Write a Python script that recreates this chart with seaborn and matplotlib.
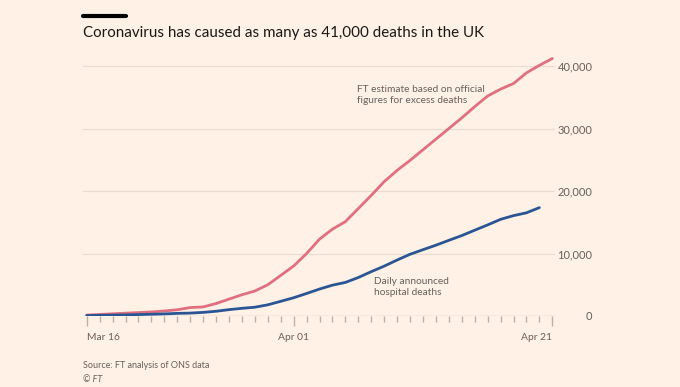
import matplotlib
matplotlib.use("Agg")
import matplotlib.pyplot as plt
import matplotlib.dates as mdates
from matplotlib.lines import Line2D
import pandas as pd
import seaborn as sns

# Cumulative deaths, daily from Mar 16
start_date = "2020-03-16"
excess_deaths = [150, 250, 350, 450, 550, 650, 800, 1000, 1350, 1450,
                 2000, 2700, 3400, 4000, 5000, 6500, 8000, 10000, 12300, 13900,
                 15100, 17200, 19300, 21500, 23300, 24900, 26600, 28300, 30000, 31700,
                 33500, 35200, 36300, 37200, 38900, 40100, 41200]
hospital_deaths = [71, 104, 144, 177, 233, 281, 335, 422, 465, 578,
                   759, 1019, 1228, 1408, 1789, 2352, 2921, 3605, 4313, 4934,
                   5373, 6159, 7097, 7978, 8958, 9875, 10612, 11329, 12107, 12868,
                   13729, 14576, 15464, 16060, 16509, 17337]
y_ticks = [0, 10000, 20000, 30000, 40000]
x_tick_dates = ["2020-03-16", "2020-04-01", "2020-04-21"]
x_tick_labels = ["Mar 16", "Apr 01", "Apr 21"]

bg = "#FFF1E5"
grey = "#66605C"
red = "#E0707F"
blue = "#2A5595"
tickc = "#BDB1A6"

dates_red = pd.date_range(start_date, periods=len(excess_deaths), freq="D")
dates_blue = pd.date_range(start_date, periods=len(hospital_deaths), freq="D")
df = pd.concat([
    pd.DataFrame({"date": dates_red, "deaths": excess_deaths, "series": "excess"}),
    pd.DataFrame({"date": dates_blue, "deaths": hospital_deaths, "series": "hospital"}),
])

sns.set_theme(style="ticks")
plt.rcParams["font.family"] = ["Lato", "DejaVu Sans"]

fig = plt.figure(figsize=(6.8, 3.87), dpi=100, facecolor=bg)
ax = fig.add_axes([83 / 680, 71 / 387, 472 / 680, 262.5 / 387])
ax.set_facecolor(bg)

sns.lineplot(data=df, x="date", y="deaths", hue="series",
             palette={"excess": red, "hospital": blue},
             linewidth=2, legend=False, ax=ax)

ax.set_ylim(0, 42000)
ax.set_xlim(dates_red[0] - pd.Timedelta(hours=7), dates_red[-1] + pd.Timedelta(hours=5))

# grid
for v in y_ticks[1:]:
    ax.axhline(v, color="#E9DDD2", lw=0.9, zorder=0)
ax.axhline(0, color="#D0C4B8", lw=1, zorder=1)

for s in ax.spines.values():
    s.set_visible(False)

# y axis on the right
ax.yaxis.tick_right()
ax.set_yticks(y_ticks)
ax.set_yticklabels([f"{v:,}" for v in y_ticks])
ax.tick_params(axis="y", length=0, pad=27, labelsize=8, labelcolor=grey)
for t in ax.yaxis.get_major_ticks():
    t.label2.set_horizontalalignment("right")

# x axis ticks (daily minor, labelled majors)
ax.set_xticks(pd.to_datetime(x_tick_dates))
ax.set_xticklabels(x_tick_labels)
ax.xaxis.set_minor_locator(mdates.DayLocator())
ax.tick_params(axis="x", which="both", bottom=True, direction="out")
ax.tick_params(axis="x", which="major", length=7, width=1, color=tickc,
               labelsize=7.4, labelcolor=grey, pad=5)
ax.tick_params(axis="x", which="minor", length=4.5, width=1, color=tickc)
xlabels = ax.get_xticklabels()
xlabels[0].set_horizontalalignment("left")
xlabels[-1].set_horizontalalignment("right")
ax.set_xlabel("")
ax.set_ylabel("")

# annotations
ax.text(dates_red[0] + pd.Timedelta(days=20.9), 35400,
        "FT estimate based on official\nfigures for excess deaths",
        fontsize=7.3, color=grey, va="center", ha="left", linespacing=1.3)
ax.text(dates_red[0] + pd.Timedelta(days=22.2), 4600,
        "Daily announced\nhospital deaths",
        fontsize=7.3, color=grey, va="center", ha="left", linespacing=1.3)

# title and bar
fig.add_artist(Line2D([83 / 680, 126 / 680], [1 - 16 / 387, 1 - 16 / 387],
                      color="black", lw=3, transform=fig.transFigure))
fig.text(83 / 680, 1 - 33 / 387, "Coronavirus has caused as many as 41,000 deaths in the UK",
         fontsize=10.9, color="#1A1817", va="center", ha="left")

# footer
fig.text(83 / 680, 1 - 365 / 387, "Source: FT analysis of ONS data",
         fontsize=6.5, color=grey, va="center", ha="left")
fig.text(83 / 680, 1 - 379 / 387, "© FT", fontsize=6.5, color=grey,
         va="center", ha="left", style="italic")

fig.savefig("out.png", dpi=100, facecolor=bg)
